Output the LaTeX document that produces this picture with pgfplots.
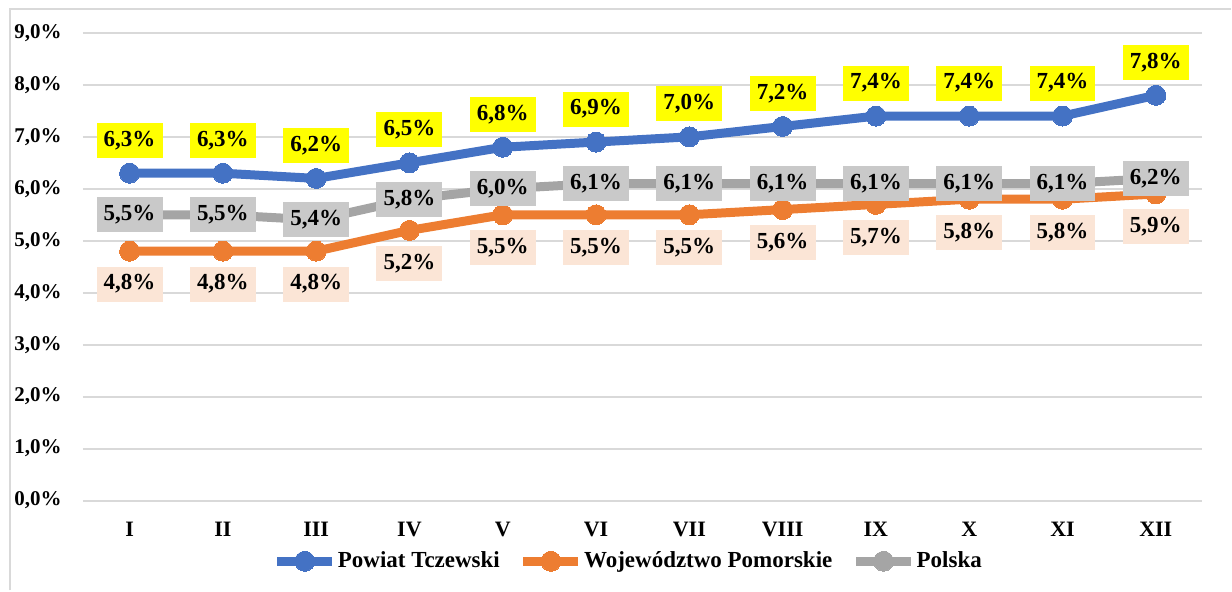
\documentclass[border=0pt]{standalone}
\usepackage{fontspec}
\setmainfont{Liberation Serif}
\usepackage{pgfplots}
\pgfplotsset{compat=1.18}
\definecolor{cblue}{HTML}{4472C4}
\definecolor{corange}{HTML}{ED7D31}
\definecolor{cgray}{HTML}{A5A5A5}
\definecolor{gridgray}{HTML}{D9D9D9}
\definecolor{lblyellow}{HTML}{FFFF00}
\definecolor{lblgray}{HTML}{C9C9C9}
\definecolor{lblpeach}{HTML}{FBE5D6}
\pgfplotsset{
  lbl/.style={draw=none, forget plot, point meta=y,
    nodes near coords={\pgfmathprintnumber[fixed,fixed zerofill,precision=1,use comma]{\pgfplotspointmeta}\%},
    every node near coord/.append style={anchor=center, fill=#1, minimum width=33pt, minimum height=17.5pt, inner sep=0pt, font=\fontsize{11.5}{13}\selectfont\bfseries, text=black}},
  ser/.style={forget plot, color=#1, line width=4.5pt, mark=*, mark size=5pt, mark options={solid, line width=0pt}},
}
\begin{document}
\begin{tikzpicture}
\begin{axis}[
  at={(0,0)}, anchor=south west,
  scale only axis, width=560.3pt, height=234pt,
  xmin=-0.5, xmax=11.5, ymin=0, ymax=9,
  xtick={0,...,11}, xticklabels={I,II,III,IV,V,VI,VII,VIII,IX,X,XI,XII},
  ytick={0,...,9},
  axis line style={draw=none},
  major tick length=0pt,
  ymajorgrids, grid style={line width=1pt, color=gridgray},
  /pgf/number format/assume math mode=true,
  yticklabel={\pgfmathprintnumber[fixed,fixed zerofill,precision=1,use comma]{\tick}\%},
  y tick label style={font=\fontsize{10.5}{12}\selectfont\bfseries, anchor=east, inner sep=0pt, xshift=-10.5pt},
  x tick label style={font=\fontsize{11}{13}\selectfont\bfseries, anchor=north, inner sep=0pt, yshift=-10.5pt},
  clip=false,
  legend columns=-1,
  legend style={at={(0.4868,-0.13)}, anchor=center, draw=none, fill=none, inner sep=0pt,
    nodes={inner xsep=0.6pt, inner ysep=1pt},
    font=\fontsize{11.5}{13}\selectfont\bfseries,
    /tikz/every even column/.append style={column sep=9pt},
    /tikz/every odd column/.append style={column sep=0pt}},
  legend image code/.code={\draw[mark repeat=2,mark phase=2,#1] plot coordinates {(0pt,0pt) (13.75pt,0pt) (27.5pt,0pt)};},
]
\addlegendimage{color=cblue, line width=4.5pt, mark=*, mark size=5pt, mark options={solid, line width=0pt}}
\addlegendentry{Powiat Tczewski}
\addlegendimage{color=corange, line width=4.5pt, mark=*, mark size=5pt, mark options={solid, line width=0pt}}
\addlegendentry{Województwo Pomorskie\hspace{33pt}}
\addlegendimage{color=cgray, line width=4.5pt, mark=*, mark size=5pt, mark options={solid, line width=0pt}}
\addlegendentry{Polska}

\addplot[ser=cgray] coordinates {(0,5.5) (1,5.5) (2,5.4) (3,5.8) (4,6.0) (5,6.1) (6,6.1) (7,6.1) (8,6.1) (9,6.1) (10,6.1) (11,6.2)};
\addplot[ser=corange] coordinates {(0,4.8) (1,4.8) (2,4.8) (3,5.2) (4,5.5) (5,5.5) (6,5.5) (7,5.6) (8,5.7) (9,5.8) (10,5.8) (11,5.9)};
\addplot[ser=cblue] coordinates {(0,6.3) (1,6.3) (2,6.2) (3,6.5) (4,6.8) (5,6.9) (6,7.0) (7,7.2) (8,7.4) (9,7.4) (10,7.4) (11,7.8)};

\addplot[lbl=lblgray] coordinates {(0,5.5) (1,5.5) (2,5.4) (3,5.8) (4,6.0) (5,6.1) (6,6.1) (7,6.1) (8,6.1) (9,6.1) (10,6.1) (11,6.2)};
\addplot[lbl=lblpeach, every node near coord/.append style={yshift=-16.5pt}] coordinates {(0,4.8) (1,4.8) (2,4.8) (3,5.2) (4,5.5) (5,5.5) (6,5.5) (7,5.6) (8,5.7) (9,5.8) (10,5.8) (11,5.9)};
\addplot[lbl=lblyellow, every node near coord/.append style={yshift=16.5pt}] coordinates {(0,6.3) (1,6.3) (2,6.2) (3,6.5) (4,6.8) (5,6.9) (6,7.0) (7,7.2) (8,7.4) (9,7.4) (10,7.4) (11,7.8)};
\end{axis}
\draw[gridgray, line width=1.2pt] (-36.5pt,-45pt) -- (-36.5pt,246pt) -- (574.5pt,246pt);
\path[use as bounding box] (-41.5pt,-45pt) rectangle (574.5pt,250.5pt);
\end{tikzpicture}
\end{document}
